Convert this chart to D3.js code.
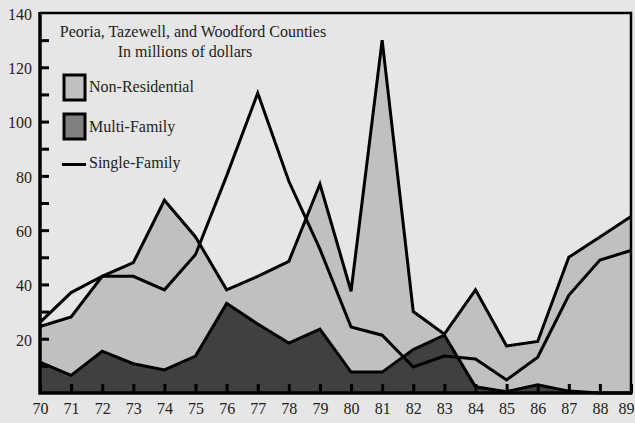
<!DOCTYPE html>
<html>
<head>
<meta charset="utf-8">
<script src="https://cdn.jsdelivr.net/npm/d3@7"></script>
<style>
  html, body { margin: 0; padding: 0; background: #e6e6e6; overflow: hidden; }
  svg { display: block; }
  text { font-family: "Liberation Serif", "DejaVu Serif", serif; fill: #222; }
</style>
</head>
<body>
<svg id="chart" width="635" height="423"></svg>
<script>
const years = ["70","71","72","73","74","75","76","77","78","79","80","81","82","83","84","85","86","87","88","89"];
const nonResidential = [24.5, 28, 43, 48, 71, 57.5, 38, 43, 48.5, 77, 37.5, 130, 30, 21.7, 38, 17.3, 19, 50, 57.5, 65];
const multiFamily = [11.4, 6.5, 15.4, 10.8, 8.5, 13.6, 33, 25.4, 18.4, 23.5, 7.7, 7.7, 16, 21.3, 2.3, 0.5, 3, 0.7, 0, 0];
const singleFamily = [26, 37, 43, 43, 38, 51, 80, 110.5, 78, 53, 24.3, 21.3, 9.6, 13.6, 12.5, 4.8, 13.2, 36, 49, 52.5];
const yTickLabels = [20, 40, 60, 80, 100, 120, 140];
const yMinorTicks = [10, 20, 30, 40, 50, 60, 70, 80, 90, 100, 110, 120, 130];
const titleLines = ["Peoria, Tazewell, and Woodford Counties", "In millions of dollars"];
const legendNames = ["Non-Residential", "Multi-Family", "Single-Family"];

(function () {
const svg = d3.select("#chart");
const mLeft = 40, mRight = 631, mTop = 13, mBottom = 393;

const x = d3.scalePoint().domain(years).range([mLeft, mRight]);
const y = d3.scaleLinear().domain([0, 140]).range([mBottom, mTop]);

svg.append("rect").attr("width", 635).attr("height", 423).attr("fill", "#e6e6e6");

const areaGen = vals => d3.area()
  .x((d, i) => x(years[i]))
  .y0(y(0))
  .y1(d => y(d))(vals);
const lineGen = vals => d3.line()
  .x((d, i) => x(years[i]))
  .y(d => y(d))(vals);

// Non-residential area
svg.append("path").attr("d", areaGen(nonResidential)).attr("fill", "#c0c0c0");
svg.append("path").attr("d", lineGen(nonResidential)).attr("fill", "none")
  .attr("stroke", "#000").attr("stroke-width", 3);

// Multi-family area
svg.append("path").attr("d", areaGen(multiFamily)).attr("fill", "#404040");
svg.append("path").attr("d", lineGen(multiFamily)).attr("fill", "none")
  .attr("stroke", "#000").attr("stroke-width", 3);

// Single-family line
svg.append("path").attr("d", lineGen(singleFamily)).attr("fill", "none")
  .attr("stroke", "#000").attr("stroke-width", 3);

// Frame: top and right borders
svg.append("path")
  .attr("d", `M${mLeft},${mTop}H${mRight}V${mBottom}`)
  .attr("fill", "none").attr("stroke", "#000").attr("stroke-width", 2.5);

// Y axis ticks (inward)
const yAxisTicks = svg.append("g").attr("transform", `translate(${mLeft},0)`)
  .call(d3.axisRight(y).tickValues(yMinorTicks).tickSize(9).tickFormat(""));
yAxisTicks.select(".domain").remove();
yAxisTicks.selectAll("line").attr("stroke", "#000").attr("stroke-width", 3);

// Y labels
const yLabels = svg.append("g").attr("transform", `translate(${mLeft - 8},0)`)
  .call(d3.axisLeft(y).tickValues(yTickLabels).tickSize(0).tickPadding(0));
yLabels.select(".domain").remove();
yLabels.selectAll("text").attr("font-size", 16).attr("fill", "#222")
  .attr("font-family", "Liberation Serif, serif").attr("dy", "0.4em");

// X axis ticks (inward, up) and labels
const xAxis = svg.append("g").attr("transform", `translate(0,${mBottom})`)
  .call(d3.axisTop(x).tickSize(9).tickFormat(""));
xAxis.select(".domain").remove();
xAxis.selectAll("line").attr("stroke", "#000").attr("stroke-width", 3);

const xLabels = svg.append("g").attr("transform", `translate(0,${mBottom + 10})`)
  .call(d3.axisBottom(x).tickSize(0).tickPadding(0));
xLabels.select(".domain").remove();
xLabels.selectAll("text").attr("font-size", 16).attr("fill", "#222")
  .attr("font-family", "Liberation Serif, serif");
// keep the last label inside the picture
xLabels.selectAll("text").filter((d, i, n) => i === n.length - 1)
  .attr("text-anchor", "end").attr("x", 634 - mRight);

// Axis lines
svg.append("path")
  .attr("d", `M${mLeft},${mTop - 1}V${mBottom}H${mRight + 1.5}`)
  .attr("fill", "none").attr("stroke", "#000").attr("stroke-width", 3.5);

// Title
svg.append("text").attr("x", 193).attr("y", 37).attr("text-anchor", "middle")
  .attr("font-size", 16).text(titleLines[0]);
svg.append("text").attr("x", 185).attr("y", 57).attr("text-anchor", "middle")
  .attr("font-size", 16).text(titleLines[1]);

// Legend
const lg = svg.append("g");
lg.append("rect").attr("x", 64).attr("y", 75).attr("width", 21).attr("height", 25)
  .attr("fill", "#c0c0c0").attr("stroke", "#000").attr("stroke-width", 3);
lg.append("rect").attr("x", 64).attr("y", 114).attr("width", 21).attr("height", 25)
  .attr("fill", "#808080").attr("stroke", "#000").attr("stroke-width", 3);
lg.append("line").attr("x1", 62).attr("x2", 86).attr("y1", 164.5).attr("y2", 164.5)
  .attr("stroke", "#000").attr("stroke-width", 3);
const legendY = [92, 132, 168];
legendNames.forEach((n, i) => {
  lg.append("text").attr("x", 89).attr("y", legendY[i]).attr("font-size", 16).text(n);
});
})();
</script>
</body>
</html>
